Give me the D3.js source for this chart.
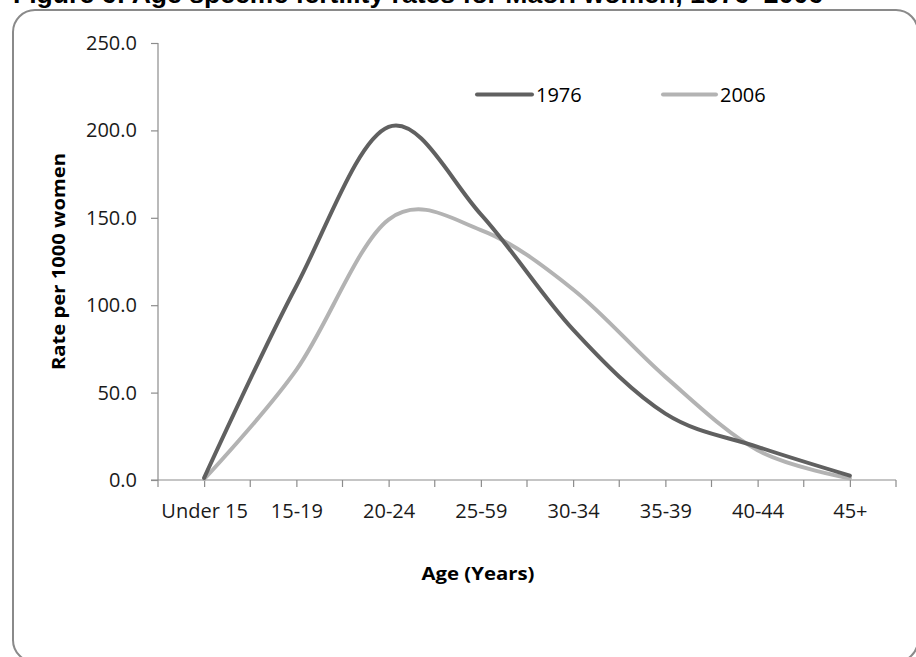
<!DOCTYPE html>
<html>
<head>
<meta charset="utf-8">
<script src="https://cdn.jsdelivr.net/npm/d3@7/dist/d3.min.js"></script>
<style>
  html, body { margin: 0; padding: 0; background: #ffffff; }
  svg { display: block; }
</style>
</head>
<body>
<svg id="chart" width="916" height="657"></svg>
<script>
// Age groups along the x axis
const ageGroups = ["Under 15", "15-19", "20-24", "25-59", "30-34", "35-39", "40-44", "45+"];
// Births per 1000 women in each age group
const rates1976 = [1.2, 111, 202, 152, 86, 38, 19, 2.5];
const rates2006 = [0.5, 63, 149, 143, 109, 59, 17, 1.0];
const seriesNames = ["1976", "2006"];
const yTicks = [0, 50, 100, 150, 200, 250];

const titleText = "Figure 6: Age specific fertility rates for Maori women, 1976\u20132006";
const yTitle = "Rate per 1000 women";
const xTitle = "Age (Years)";

const colors = { "1976": "#606060", "2006": "#b3b3b3" };
const axisColor = "#8c8c8c";
const labelFont = "'Open Sans', Lato, sans-serif";

const svg = d3.select("#chart");

// Outer frame with rounded corners
svg.append("rect")
  .attr("x", 13).attr("y", 10)
  .attr("width", 905).attr("height", 652)
  .attr("rx", 22).attr("ry", 22)
  .attr("fill", "#ffffff")
  .attr("stroke", "#8a8a8a")
  .attr("stroke-width", 2);

// Title (sits at the very top edge)
svg.append("text")
  .attr("x", 13).attr("y", 3)
  .attr("font-family", "'Liberation Sans', Arial, sans-serif")
  .attr("font-weight", "bold")
  .attr("font-size", 26)
  .attr("textLength", 810)
  .attr("lengthAdjust", "spacingAndGlyphs")
  .attr("fill", "#000")
  .text(titleText);

// Plot area bounds
const plotLeft = 158, plotRight = 896, plotTop = 43, plotBottom = 480;

const x = d3.scalePoint().domain(ageGroups).range([plotLeft, plotRight]).padding(0.5);
const y = d3.scaleLinear().domain([0, 250]).range([plotBottom, plotTop]);

// Y axis
const yAxis = d3.axisLeft(y)
  .tickValues(yTicks)
  .tickFormat(d3.format(".1f"))
  .tickSizeInner(7).tickSizeOuter(0).tickPadding(14);
const gy = svg.append("g").attr("transform", `translate(${plotLeft},0)`).call(yAxis);
gy.select(".domain").remove();
gy.selectAll(".tick line").attr("stroke", axisColor).attr("stroke-width", 1.2);
gy.selectAll(".tick text")
  .attr("font-family", labelFont).attr("font-size", 20)
  .attr("fill", "#1a1a1a");
svg.append("line")
  .attr("x1", plotLeft).attr("x2", plotLeft)
  .attr("y1", plotTop).attr("y2", plotBottom + 7)
  .attr("stroke", axisColor).attr("stroke-width", 1.2);

// X axis: ticks at each age group and half way between them
const xAxis = d3.axisBottom(x).tickSizeInner(7).tickSizeOuter(0).tickPadding(0);
const gx = svg.append("g").attr("transform", `translate(0,${plotBottom})`).call(xAxis);
gx.select(".domain").remove();
gx.selectAll(".tick line").attr("stroke", axisColor).attr("stroke-width", 1.2);
gx.selectAll(".tick text")
  .attr("font-family", labelFont).attr("font-size", 20)
  .attr("fill", "#1a1a1a")
  .attr("dy", 0).attr("y", 38);
const half = x.step() / 2;
svg.append("g").selectAll("line")
  .data(ageGroups)
  .join("line")
  .attr("x1", d => x(d) + half).attr("x2", d => x(d) + half)
  .attr("y1", plotBottom).attr("y2", plotBottom + 7)
  .attr("stroke", axisColor).attr("stroke-width", 1.2);
svg.append("line")
  .attr("x1", plotLeft - 7).attr("x2", plotRight)
  .attr("y1", plotBottom).attr("y2", plotBottom)
  .attr("stroke", axisColor).attr("stroke-width", 1.2);

// Axis titles
svg.append("text")
  .attr("transform", `translate(65,261.5) rotate(-90)`)
  .attr("text-anchor", "middle")
  .attr("font-family", labelFont).attr("font-weight", "bold")
  .attr("font-size", 18)
  .attr("textLength", 217).attr("lengthAdjust", "spacingAndGlyphs")
  .attr("fill", "#000")
  .text(yTitle);

svg.append("text")
  .attr("x", 478).attr("y", 580)
  .attr("text-anchor", "middle")
  .attr("font-family", labelFont).attr("font-weight", "bold")
  .attr("font-size", 18)
  .attr("textLength", 113).attr("lengthAdjust", "spacingAndGlyphs")
  .attr("fill", "#000")
  .text(xTitle);

// Smoothed series lines
const line = d3.line()
  .x((d, i) => x(ageGroups[i]))
  .y(d => y(d))
  .curve(d3.curveCardinal.tension(0));

const series = [
  { name: "1976", values: rates1976 },
  { name: "2006", values: rates2006 }
];

svg.append("g").selectAll("path")
  .data(series.slice().reverse())
  .join("path")
  .attr("d", d => line(d.values))
  .attr("fill", "none")
  .attr("stroke", d => colors[d.name])
  .attr("stroke-width", 4)
  .attr("stroke-linecap", "round")
  .attr("stroke-linejoin", "round");

// Legend
const legendItems = [
  { name: seriesNames[0], x0: 477, x1: 532 },
  { name: seriesNames[1], x0: 663, x1: 716 }
];
const lg = svg.append("g");
legendItems.forEach(it => {
  lg.append("line")
    .attr("x1", it.x0).attr("x2", it.x1)
    .attr("y1", 94.5).attr("y2", 94.5)
    .attr("stroke", colors[it.name]).attr("stroke-width", 4)
    .attr("stroke-linecap", "round");
  lg.append("text")
    .attr("x", it.x1 + 4).attr("y", 94.5)
    .attr("dominant-baseline", "central")
    .attr("font-family", labelFont).attr("font-size", 20)
    .attr("fill", "#000")
    .text(it.name);
});
</script>
</body>
</html>
